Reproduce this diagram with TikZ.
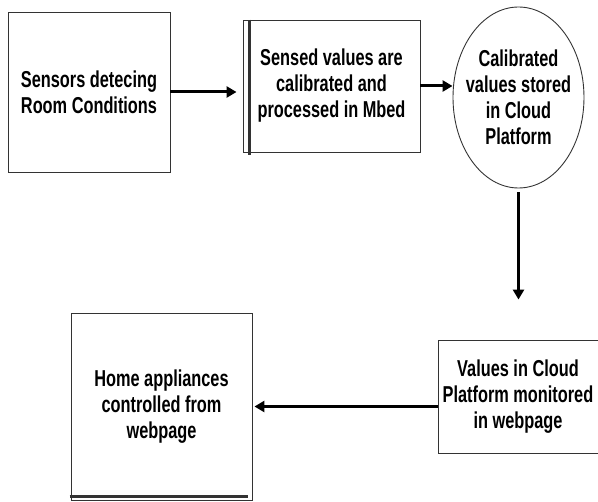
\documentclass[tikz,border=0pt]{standalone}
\usepackage{fontspec}
\setmainfont{Liberation Sans}[FakeStretch=0.71]
\usepackage{tikz}
\usetikzlibrary{shapes.geometric,arrows.meta}
\definecolor{edge}{HTML}{333333}

\begin{document}
\begin{tikzpicture}[x=1pt,y=-1pt,box/.style={draw=edge,line width=0.9pt,align=center,inner sep=0pt,font=\fontsize{23}{26}\selectfont\bfseries},arr/.style={-{Triangle[length=10pt,width=11pt]},line width=3pt},bar/.style={line width=2.4pt,edge}]
\useasboundingbox (0,0) rectangle (598,502);
\node[box,minimum width=162pt,minimum height=160pt] (sense) at (89,92) {Sensors detecing\\Room Conditions};
\node[box,minimum width=177pt,minimum height=132pt] (mbed) at (331.5,86) {Sensed values are\\calibrated and\\processed in Mbed};
\node[box,ellipse,inner xsep=-16pt,minimum width=131pt,minimum height=181pt] (cloud) at (518.5,97.5) {Calibrated\\values stored\\in Cloud\\Platform};
\node[box,minimum width=160pt,minimum height=113pt] (monitor) at (518,396.5) {Values in Cloud\\Platform monitored\\in webpage};
\node[box,minimum width=181pt,minimum height=187pt] (home) at (161.5,406.5) {Home appliances\\controlled from\\webpage};
\draw[bar] ([xshift=7pt]mbed.north west) -- ([xshift=7pt,yshift=-3pt]mbed.south west);
\draw[bar] ([xshift=-1pt,yshift=4pt]home.south west) -- ([xshift=-4pt,yshift=4pt]home.south east);
\draw[arr,shorten >=6pt] (sense.east) -- (sense.east -| mbed.west);
\draw[arr] (mbed.east) -- (mbed.east -| cloud.west);
\draw[arr,shorten <=4pt,shorten >=40pt] (cloud.south) -- (cloud.south |- monitor.north);
\draw[arr,shorten >=2pt] (monitor.west |- home.east) -- (home.east);
\end{tikzpicture}
\end{document}
